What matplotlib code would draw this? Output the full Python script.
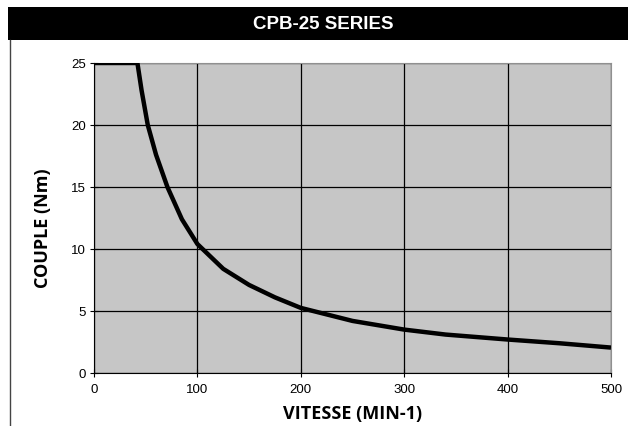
import matplotlib
matplotlib.use('Agg')
import matplotlib.pyplot as plt
from matplotlib.patches import Rectangle
from matplotlib.lines import Line2D

# speed (min-1) and torque (Nm)
vitesse = [0, 42, 46, 52, 60, 71, 85, 100, 125, 150, 175, 200, 250, 300, 340, 400, 450, 500]
couple = [25, 25, 22.8, 20, 17.6, 15, 12.4, 10.4, 8.4, 7.1, 6.1, 5.25, 4.2, 3.5, 3.1, 2.7, 2.4, 2.05]

xticks = [0, 100, 200, 300, 400, 500]
yticks = [0, 5, 10, 15, 20, 25]

fig = plt.figure(figsize=(6.28, 4.27), dpi=100)

# black title bar and left border
fig.patches.append(Rectangle((8/628, 1-41/427), 620/628, 33/427, transform=fig.transFigure,
                             facecolor='black', edgecolor='none'))
fig.lines.append(Line2D([9.5/628, 9.5/628], [0, 1-41/427], transform=fig.transFigure,
                        color='#444444', lw=1))
fig.text(0.515, 1-24.5/427, 'CPB-25 SERIES', color='white', fontsize=13.5, fontweight='bold',
         family='Liberation Sans', ha='center', va='center')

ax = fig.add_axes([94/628, 1-374/427, 517/628, 310/427])
ax.set_facecolor('#c6c6c6')
ax.plot(vitesse, couple, color='black', lw=3.2, solid_capstyle='butt', zorder=3)

ax.set_xlim(0, 500)
ax.set_ylim(0, 25)
ax.set_xticks(xticks)
ax.set_yticks(yticks)
ax.grid(True, color='black', lw=0.9)
ax.set_axisbelow(True)
for s in ['top', 'right']:
    ax.spines[s].set_color('#909090')
for s in ['left', 'bottom']:
    ax.spines[s].set_color('black')
ax.tick_params(direction='inout', length=6, width=0.8, labelsize=9.5, pad=3)
for lab in ax.get_xticklabels() + ax.get_yticklabels():
    lab.set_family('Liberation Sans')
ax.tick_params(axis='x', pad=4)

ax.set_xlabel('VITESSE (MIN-1)', fontsize=13, fontweight='bold', family='Open Sans', labelpad=7)
ax.set_ylabel('COUPLE (Nm)', fontsize=13, fontweight='bold', family='Open Sans')
ax.yaxis.set_label_coords(-0.081, 0.47)

plt.savefig('out.png', dpi=100)
